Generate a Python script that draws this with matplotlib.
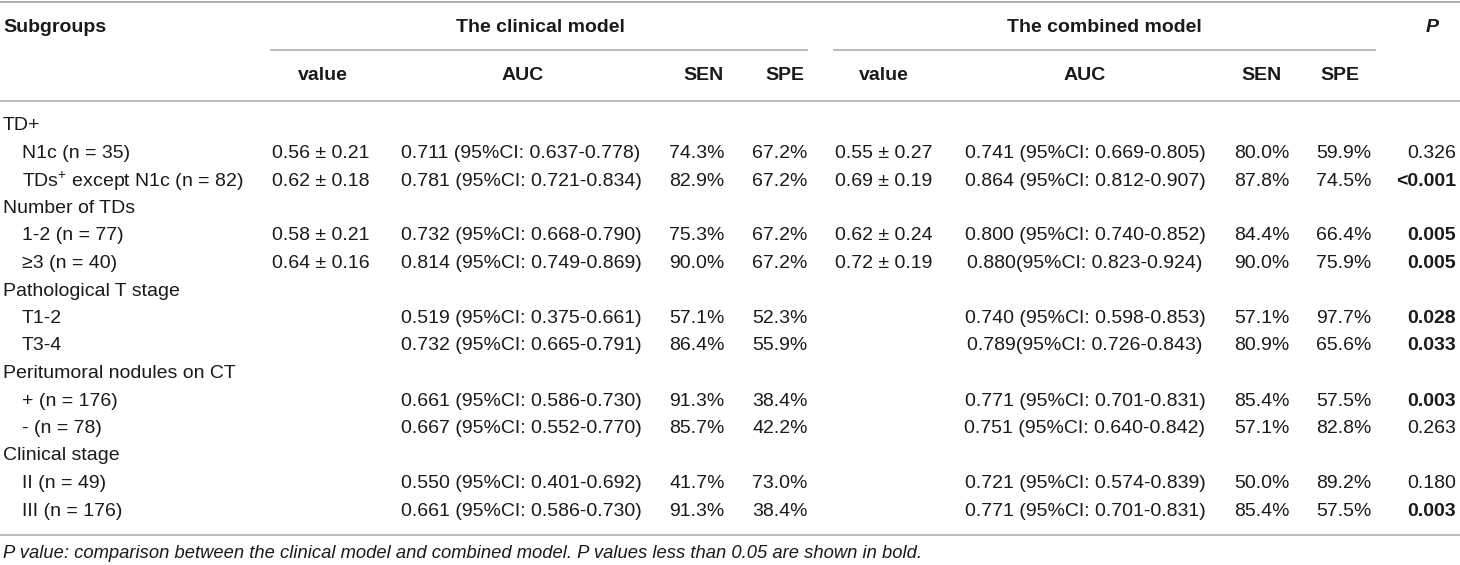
import matplotlib
matplotlib.use("Agg")
import matplotlib.pyplot as plt

plt.rcParams['font.family'] = ['Liberation Sans', 'DejaVu Sans']
plt.rcParams['mathtext.fontset'] = 'custom'
plt.rcParams['mathtext.rm'] = 'Liberation Sans'

# table content
row_labels = ["TD+", "N1c (n = 35)", "TDs$^{+}$ except N1c (n = 82)", "Number of TDs",
              "1-2 (n = 77)", "\u22653 (n = 40)", "Pathological T stage", "T1-2", "T3-4",
              "Peritumoral nodules on CT", "+ (n = 176)", "- (n = 78)", "Clinical stage",
              "II (n = 49)", "III (n = 176)"]
is_group = [True, False, False, True, False, False, True, False, False,
            True, False, False, True, False, False]

clin_value = ["", "0.56 \u00b1 0.21", "0.62 \u00b1 0.18", "", "0.58 \u00b1 0.21", "0.64 \u00b1 0.16",
              "", "", "", "", "", "", "", "", ""]
clin_auc = ["", "0.711 (95%CI: 0.637-0.778)", "0.781 (95%CI: 0.721-0.834)", "",
            "0.732 (95%CI: 0.668-0.790)", "0.814 (95%CI: 0.749-0.869)", "",
            "0.519 (95%CI: 0.375-0.661)", "0.732 (95%CI: 0.665-0.791)", "",
            "0.661 (95%CI: 0.586-0.730)", "0.667 (95%CI: 0.552-0.770)", "",
            "0.550 (95%CI: 0.401-0.692)", "0.661 (95%CI: 0.586-0.730)"]
clin_sen = ["", "74.3%", "82.9%", "", "75.3%", "90.0%", "", "57.1%", "86.4%", "",
            "91.3%", "85.7%", "", "41.7%", "91.3%"]
clin_spe = ["", "67.2%", "67.2%", "", "67.2%", "67.2%", "", "52.3%", "55.9%", "",
            "38.4%", "42.2%", "", "73.0%", "38.4%"]

comb_value = ["", "0.55 \u00b1 0.27", "0.69 \u00b1 0.19", "", "0.62 \u00b1 0.24", "0.72 \u00b1 0.19",
              "", "", "", "", "", "", "", "", ""]
comb_auc = ["", "0.741 (95%CI: 0.669-0.805)", "0.864 (95%CI: 0.812-0.907)", "",
            "0.800 (95%CI: 0.740-0.852)", "0.880(95%CI: 0.823-0.924)", "",
            "0.740 (95%CI: 0.598-0.853)", "0.789(95%CI: 0.726-0.843)", "",
            "0.771 (95%CI: 0.701-0.831)", "0.751 (95%CI: 0.640-0.842)", "",
            "0.721 (95%CI: 0.574-0.839)", "0.771 (95%CI: 0.701-0.831)"]
comb_sen = ["", "80.0%", "87.8%", "", "84.4%", "90.0%", "", "57.1%", "80.9%", "",
            "85.4%", "57.1%", "", "50.0%", "85.4%"]
comb_spe = ["", "59.9%", "74.5%", "", "66.4%", "75.9%", "", "97.7%", "65.6%", "",
            "57.5%", "82.8%", "", "89.2%", "57.5%"]

p_values = ["", "0.326", "<0.001", "", "0.005", "0.005", "", "0.028", "0.033", "",
            "0.003", "0.263", "", "0.180", "0.003"]
p_bold = ["", False, True, "", True, True, "", True, True, "", True, False, "", False, True]

sub_headers = ["value", "AUC", "SEN", "SPE", "value", "AUC", "SEN", "SPE"]

# layout (pixel coordinates)
W, H = 1460, 565
fs = 14
txt = '#1a1a1a'
rule = '#a8a8a8'
col_x = [321, 521, 697, 780, 884, 1085, 1262, 1344]
hdr_x = [323, 523, 704, 785, 884, 1085, 1261, 1340]
p_x = 1456
row_y0, row_dy = 126, 27.5

fig = plt.figure(figsize=(W / 100, H / 100), dpi=100)
ax = fig.add_axes([0, 0, 1, 1])
ax.set_xlim(0, W)
ax.set_ylim(H, 0)
ax.axis('off')

# rules
ax.plot([0, W], [2, 2], color=rule, lw=1.3)
ax.plot([0, W], [101, 101], color=rule, lw=1.1)
ax.plot([0, W], [535, 535], color=rule, lw=1.1)
ax.plot([271, 807], [50, 50], color=rule, lw=1.1)
ax.plot([834, 1375], [50, 50], color=rule, lw=1.1)

# headers
ax.text(3, 27, "Subgroups", fontsize=fs, fontweight='bold', color=txt, va='center', ha='left')
ax.text(540, 27, "The clinical model", fontsize=fs, fontweight='bold', color=txt, va='center', ha='center')
ax.text(1104, 27, "The combined model", fontsize=fs, fontweight='bold', color=txt, va='center', ha='center')
ax.text(1432, 27, "P", fontsize=fs, fontweight='bold', fontstyle='italic', color=txt, va='center', ha='center')
for x, h in zip(hdr_x, sub_headers):
    ax.text(x, 75, h, fontsize=fs, fontweight='bold', color=txt, va='center', ha='center')

# body
columns = [clin_value, clin_auc, clin_sen, clin_spe, comb_value, comb_auc, comb_sen, comb_spe]
for i, lab in enumerate(row_labels):
    y = row_y0 + i * row_dy
    ax.text(3 if is_group[i] else 22, y, lab, fontsize=fs, color=txt, va='center', ha='left')
    for x, col in zip(col_x, columns):
        if col[i]:
            ax.text(x, y, col[i], fontsize=fs, color=txt, va='center', ha='center')
    if p_values[i]:
        ax.text(p_x, y, p_values[i], fontsize=fs, color=txt, va='center', ha='right',
                fontweight='bold' if p_bold[i] else 'normal')

ax.text(3, 554, "P value: comparison between the clinical model and combined model. "
        "P values less than 0.05 are shown in bold.",
        fontsize=13.2, fontstyle='italic', color=txt, va='center', ha='left')

fig.savefig("out.png", dpi=100)
